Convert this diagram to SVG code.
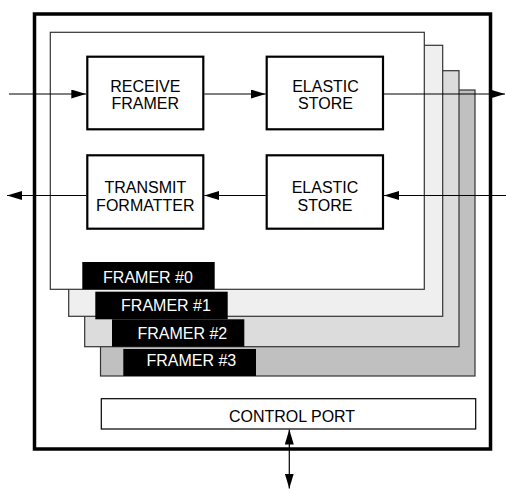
<svg xmlns="http://www.w3.org/2000/svg" width="506" height="489" viewBox="0 0 506 489">
<style>
text{font-family:"Liberation Sans",Arial,sans-serif;font-size:16px;text-anchor:middle;fill:#000}
.frame{stroke:#333;stroke-width:1.2}
.lbl{fill:#000}
.lbl-t{fill:#fff}
.box{fill:#fff;stroke:#000;stroke-width:2.2}
.wire{stroke:#000;stroke-width:1.2;fill:none}
</style>
<defs>
<marker id="ah" viewBox="0 0 15 9" refX="15" refY="4.5" markerWidth="15" markerHeight="9" markerUnits="userSpaceOnUse" orient="auto-start-reverse">
<path d="M0,0 L15,4.5 L0,9 Z" fill="#000"/>
</marker>
</defs>
<rect id="enclosure" x="34.5" y="14" width="456" height="435" fill="#fff" stroke="#000" stroke-width="3.5"/>
<g id="framer3">
<rect class="frame" x="100.5" y="90" width="374.5" height="286" fill="#c0c0c0"/>
<rect class="lbl" x="123.3" y="349" width="132.7" height="27"/>
<text class="lbl-t" x="191.3" y="365.5" style="fill:#fff">FRAMER #3</text>
</g>
<g id="framer2">
<rect class="frame" x="84.7" y="70.7" width="374.3" height="276" fill="#dcdcdc"/>
<rect class="lbl" x="112" y="319.3" width="132.3" height="27.4"/>
<text class="lbl-t" x="182.3" y="338.7" style="fill:#fff">FRAMER #2</text>
</g>
<g id="framer1">
<rect class="frame" x="68.7" y="45.3" width="374" height="271" fill="#efefef"/>
<rect class="lbl" x="95.3" y="291.7" width="132.4" height="27.6"/>
<text class="lbl-t" x="166" y="311.4" style="fill:#fff">FRAMER #1</text>
</g>
<g id="framer0">
<rect class="frame" x="50.3" y="32.3" width="374" height="257" fill="#fff"/>
<rect class="lbl" x="82.3" y="262" width="132.4" height="27.3"/>
<text class="lbl-t" x="148" y="282.5" style="fill:#fff">FRAMER #0</text>
</g>
<g id="receive-framer">
<rect class="box" x="87.3" y="56.7" width="116" height="72.6"/>
<text x="145.3" y="91.5">RECEIVE</text>
<text x="145.3" y="109.3">FRAMER</text>
</g>
<g id="elastic-store-rx">
<rect class="box" x="266.7" y="56.7" width="116.3" height="72.6"/>
<text x="325.5" y="91.5">ELASTIC</text>
<text x="325.5" y="109.3">STORE</text>
</g>
<g id="transmit-formatter">
<rect class="box" x="87.3" y="155.3" width="116" height="73.4"/>
<text x="145.3" y="192.5">TRANSMIT</text>
<text x="145.3" y="210.5">FORMATTER</text>
</g>
<g id="elastic-store-tx">
<rect class="box" x="266.7" y="155.3" width="116.3" height="73.4"/>
<text x="325" y="192.5">ELASTIC</text>
<text x="325" y="210.5">STORE</text>
</g>
<g id="control-port">
<rect x="101.3" y="398.7" width="374.4" height="30.3" fill="#fff" stroke="#000" stroke-width="1.2"/>
<text x="292" y="421.5">CONTROL PORT</text>
</g>
<g id="connectors">
<line class="wire" x1="9" y1="94" x2="86.3" y2="94" marker-end="url(#ah)"/>
<line class="wire" x1="204.3" y1="94" x2="265.7" y2="94" marker-end="url(#ah)"/>
<line class="wire" x1="384" y1="94" x2="505" y2="94" marker-end="url(#ah)"/>
<line class="wire" x1="506" y1="195.5" x2="384" y2="195.5" marker-end="url(#ah)"/>
<line class="wire" x1="265.7" y1="195.5" x2="204.3" y2="195.5" marker-end="url(#ah)"/>
<line class="wire" x1="86.3" y1="195.5" x2="7" y2="195.5" marker-end="url(#ah)"/>
<line class="wire" x1="289.3" y1="429.5" x2="289.3" y2="488.5" marker-start="url(#ah)" marker-end="url(#ah)"/>
</g>
</svg>
